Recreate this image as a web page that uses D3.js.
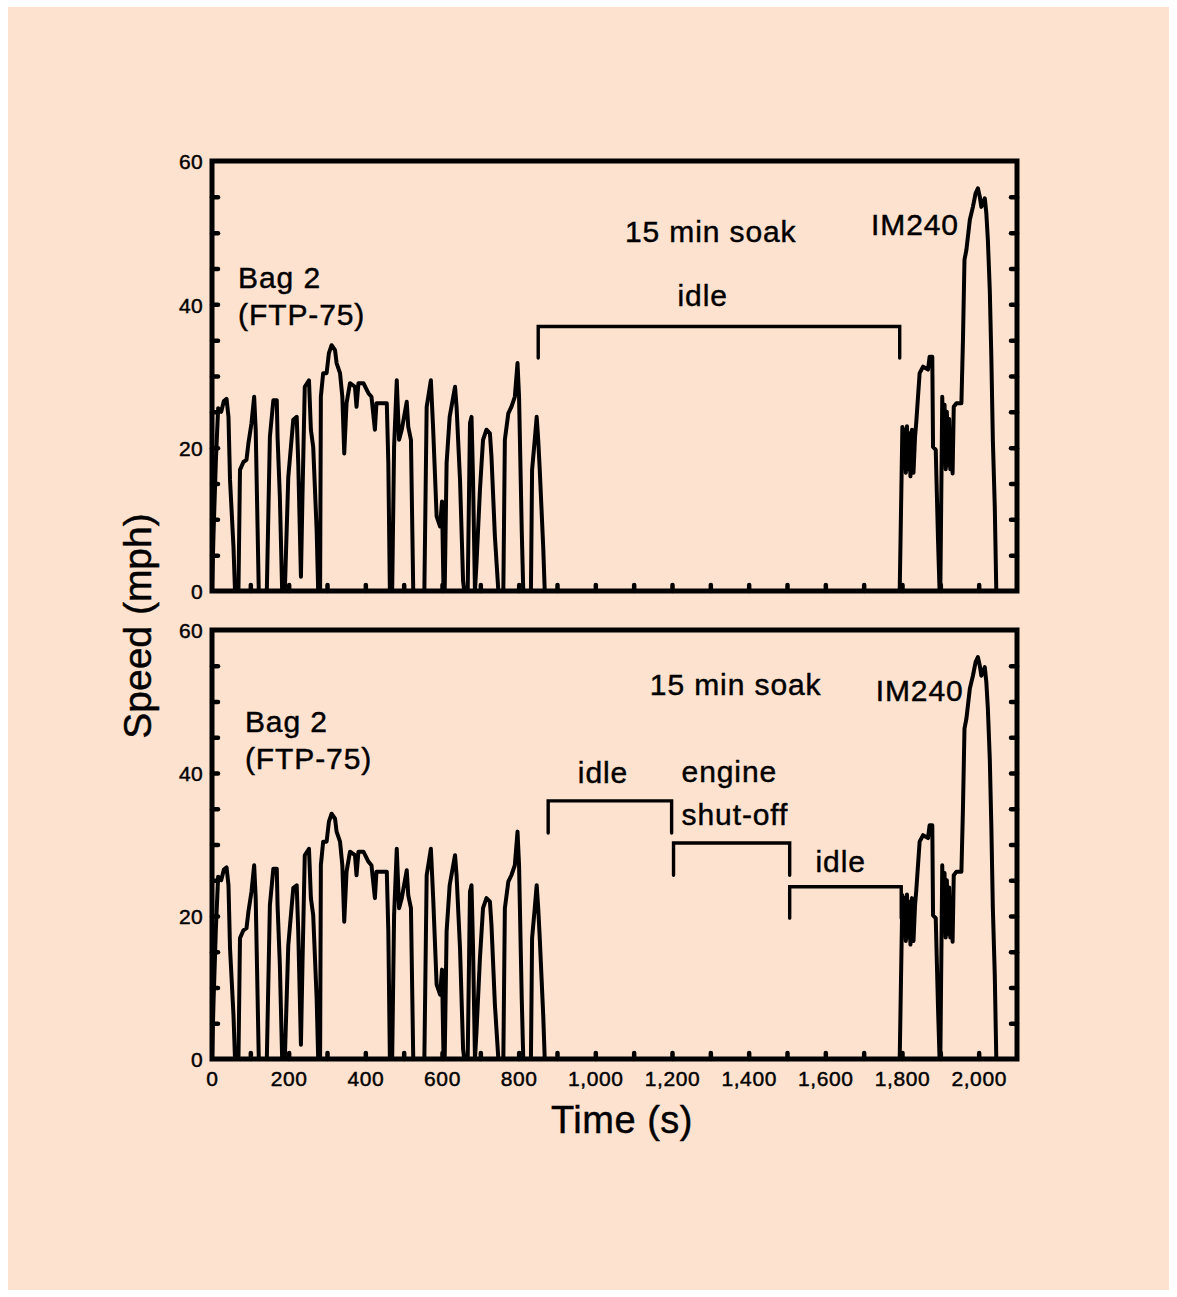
<!DOCTYPE html>
<html>
<head>
<meta charset="utf-8">
<script src="https://cdn.jsdelivr.net/npm/d3@7"></script>
<style>
  html, body { margin: 0; padding: 0; background: #ffffff; }
  svg { display: block; }
  text { font-family: "Liberation Sans", Arial, Helvetica, sans-serif; fill: #000; stroke: #000; stroke-width: 0.45px; }
</style>
</head>
<body>
<svg id="chart" width="1177" height="1297"></svg>
<script>
// Driving schedule: FTP-75 Bag 2, 15 min soak, then IM240 (time in s, speed in mph)
const traceTime = [
  0, 4, 10, 16, 24, 31, 38, 43, 47, 56, 60,
  69, 73, 82, 90, 95, 103, 110, 114, 119, 122,
  143, 151, 160, 169, 171, 177, 183,
  190, 199, 212, 221, 225, 232, 236, 242, 253, 258, 264, 273, 277,
  282, 284, 290, 299, 305, 312, 321, 325, 334, 340, 345, 351, 360, 373, 377, 382, 395, 408, 416, 425, 429, 456, 460, 464,
  470, 475, 482, 488, 495, 508, 512, 519, 525,
  554, 560, 571, 577, 586, 595, 600, 604, 607, 612, 620, 634, 638, 647, 655, 658,
  667, 673, 677, 681, 686, 690, 699, 707, 716, 725, 729, 738, 747,
  760, 764, 773, 781, 790, 797, 801, 808, 812,
  832, 835, 842, 847, 851, 855, 864, 868,
  1794, 1801, 1804, 1807, 1810, 1813, 1816, 1819, 1822, 1826, 1830, 1834, 1837, 1846, 1855, 1868, 1872, 1879, 1881, 1888, 1894, 1898, 1900,
  1905, 1908, 1911, 1914, 1917, 1920, 1923, 1926, 1929, 1932, 1935, 1942, 1955, 1959, 1963, 1968, 1977, 1985, 1992, 1998, 2003, 2007, 2016, 2020, 2024, 2029, 2033, 2037, 2042, 2046,
  2100
];
const traceSpeed = [
  0, 8, 18, 25.5, 25, 26.5, 26.8, 24.3, 15.5, 6.2, 0,
  0, 16.9, 18.0, 18.3, 20.6, 23.4, 27.1, 22.5, 8.5, 0,
  0, 21.5, 26.6, 26.6, 21.5, 13.2, 0,
  0, 15.9, 23.9, 24.3, 17.8, 2.0, 13.2, 28.5, 29.4, 22.5, 20.1, 8.5, 0,
  0, 27.1, 30.4, 30.4, 33.2, 34.3, 33.6, 31.8, 30.4, 27.1, 19.2, 26.2, 29.0, 28.5, 25.7, 29.0, 29.0, 27.6, 27.1, 22.5, 26.2, 26.2, 17.8, 0,
  0, 20.1, 29.4, 21.1, 22.5, 26.4, 22.9, 21.1, 0,
  0, 25.7, 29.4, 22.5, 10.4, 9.0, 12.5, 0, 0, 17.8, 24.3, 28.5, 25.7, 15.5, 1.4, 0,
  0, 23.4, 24.3, 15.5, 0, 3.9, 14.1, 21.1, 22.5, 22.0, 18.8, 7.6, 0,
  0, 21.1, 24.8, 25.7, 27.1, 31.8, 27.1, 8.5, 0,
  0, 16.9, 21.1, 24.3, 21.1, 16.9, 6.2, 0,
  0, 22.9, 17.5, 22.5, 16.5, 23.0, 17.0, 22.0, 16.0, 22.5, 16.5, 21.5, 23.4, 30.4, 31.3, 30.9, 32.7, 32.7, 20.1, 19.7, 7.1, 0, 0,
  27.1, 18, 26, 17, 25, 17.5, 24, 17, 22, 16.4, 25.7, 26.2, 26.2, 35.0, 46.2, 47.6, 51.8, 53.6, 55.5, 56.2, 55.0, 53.6, 54.8, 52.7, 49.0, 42.0, 32.7, 21.1, 11.8, 0,
  0
];

// Axis ticks
const xTickLabels = [0, 200, 400, 600, 800, 1000, 1200, 1400, 1600, 1800, 2000];
const yTickLabels = [0, 20, 40, 60];
const xMinorTicks = d3.range(100, 2100, 100);
const yMinorTicks = d3.range(5, 60, 5);

// Soak phases shown as brackets (start / end in s)
const topPhases = [
  { label: "idle", start: 851, end: 1794 }
];
const bottomPhases = [
  { label: "idle", start: 877, end: 1199 },
  { label: "engine shut-off", start: 1204, end: 1507 },
  { label: "idle", start: 1507, end: 1798 }
];

const trace = traceTime.map((t, i) => ({ t, v: traceSpeed[i] }));

const svg = d3.select("#chart");

// peach page background
svg.append("rect")
  .attr("x", 8).attr("y", 7)
  .attr("width", 1161).attr("height", 1283)
  .attr("fill", "#FDE2CF")
  .attr("stroke", "none");

const x = d3.scaleLinear().domain([0, 2100]).range([212, 1017]);

const panels = [
  {
    y: d3.scaleLinear().domain([0, 60]).range([591, 161]),
    phases: topPhases,
    bracketTop: [36.9], bracketFoot: [32.5],
    notes: [
      { text: "Bag 2", t: 68, v: 42.3, anchor: "start" },
      { text: "(FTP-75)", t: 68, v: 37.1, anchor: "start" },
      { text: "15 min soak", t: 1301, v: 48.7, anchor: "middle" },
      { text: "IM240", t: 1834, v: 49.7, anchor: "middle" },
      { text: "idle", t: 1280, v: 39.7, anchor: "middle" }
    ],
    xLabels: false
  },
  {
    y: d3.scaleLinear().domain([0, 60]).range([1059, 630]),
    phases: bottomPhases,
    bracketTop: [36.1, 30.2, 24.1], bracketFoot: [31.6, 25.7, 19.7],
    notes: [
      { text: "Bag 2", t: 86, v: 45.7, anchor: "start" },
      { text: "(FTP-75)", t: 86, v: 40.6, anchor: "start" },
      { text: "15 min soak", t: 1366, v: 50.9, anchor: "middle" },
      { text: "IM240", t: 1846, v: 50.1, anchor: "middle" },
      { text: "idle", t: 1020, v: 38.6, anchor: "middle" },
      { text: "engine", t: 1225, v: 38.8, anchor: "start" },
      { text: "shut-off", t: 1225, v: 32.7, anchor: "start" },
      { text: "idle", t: 1640, v: 26.2, anchor: "middle" }
    ],
    xLabels: true
  }
];

const line = d3.line().x(d => x(d.t)).curve(d3.curveLinear);

panels.forEach(p => {
  const g = svg.append("g");
  const y = p.y;
  const [x0, x1] = x.range();
  const [yb, yt] = y.range();

  // speed trace
  g.append("path")
    .datum(trace)
    .attr("fill", "none")
    .attr("stroke", "#000")
    .attr("stroke-width", 4)
    .attr("stroke-linejoin", "round")
    .attr("d", line.y(d => y(d.v)));

  // inward minor ticks: left, right, bottom
  const styleTicks = sel => {
    sel.select(".domain").remove();
    sel.selectAll(".tick line")
      .attr("stroke", "#000")
      .attr("stroke-width", 4.5)
      .attr("stroke-linecap", "round");
    sel.selectAll(".tick text").remove();
  };
  g.append("g").attr("transform", `translate(${x0},0)`)
    .call(d3.axisLeft(y).tickValues(yMinorTicks).tickSize(-6)).call(styleTicks);
  g.append("g").attr("transform", `translate(${x1},0)`)
    .call(d3.axisRight(y).tickValues(yMinorTicks).tickSize(-6)).call(styleTicks);
  g.append("g").attr("transform", `translate(0,${yb})`)
    .call(d3.axisBottom(x).tickValues(xMinorTicks).tickSize(-6)).call(styleTicks);

  // frame
  g.append("rect")
    .attr("x", x0).attr("y", yt)
    .attr("width", x1 - x0).attr("height", yb - yt)
    .attr("fill", "none")
    .attr("stroke", "#000")
    .attr("stroke-width", 5);

  // y tick labels
  const yAxis = g.append("g").attr("transform", `translate(${x0 - 9},0)`)
    .call(d3.axisLeft(y).tickValues(yTickLabels).tickSize(0).tickPadding(0).tickFormat(d3.format("d")));
  yAxis.select(".domain").remove();
  yAxis.selectAll(".tick text")
    .attr("font-size", 21)
    .attr("font-family", "Liberation Sans, Arial, sans-serif")
    .attr("letter-spacing", "0.3px")
    .attr("dy", "0.38em")
    .attr("fill", "#000");

  // x tick labels (bottom panel only)
  if (p.xLabels) {
    const xAxis = g.append("g").attr("transform", `translate(0,${yb + 12})`)
      .call(d3.axisBottom(x).tickValues(xTickLabels).tickSize(0).tickPadding(0).tickFormat(d3.format(",")));
    xAxis.select(".domain").remove();
    xAxis.selectAll(".tick text")
      .attr("font-size", 21)
      .attr("font-family", "Liberation Sans, Arial, sans-serif")
      .attr("letter-spacing", "0.6px")
      .attr("dy", "0.72em")
      .attr("fill", "#000");
  }

  // soak phase brackets
  p.phases.forEach((ph, i) => {
    const top = y(p.bracketTop[i]);
    const foot = y(p.bracketFoot[i]);
    g.append("path")
      .attr("fill", "none")
      .attr("stroke", "#000")
      .attr("stroke-width", 3.4)
      .attr("stroke-linecap", "round")
      .attr("stroke-linejoin", "miter")
      .attr("d", `M${x(ph.start)},${foot}V${top}H${x(ph.end)}V${foot}`);
  });

  // annotations
  g.selectAll("text.note")
    .data(p.notes)
    .join("text")
    .attr("class", "note")
    .attr("x", d => x(d.t))
    .attr("y", d => y(d.v))
    .attr("text-anchor", d => d.anchor)
    .attr("font-size", 30)
    .attr("letter-spacing", "0.9px")
    .text(d => d.text);
});

// axis titles
svg.append("text")
  .attr("transform", "translate(151,626) rotate(-90)")
  .attr("text-anchor", "middle")
  .attr("font-size", 39)
  .text("Speed (mph)");

svg.append("text")
  .attr("x", 622).attr("y", 1133)
  .attr("text-anchor", "middle")
  .attr("font-size", 38)
  .attr("letter-spacing", "0.5px")
  .text("Time (s)");
</script>
</body>
</html>
